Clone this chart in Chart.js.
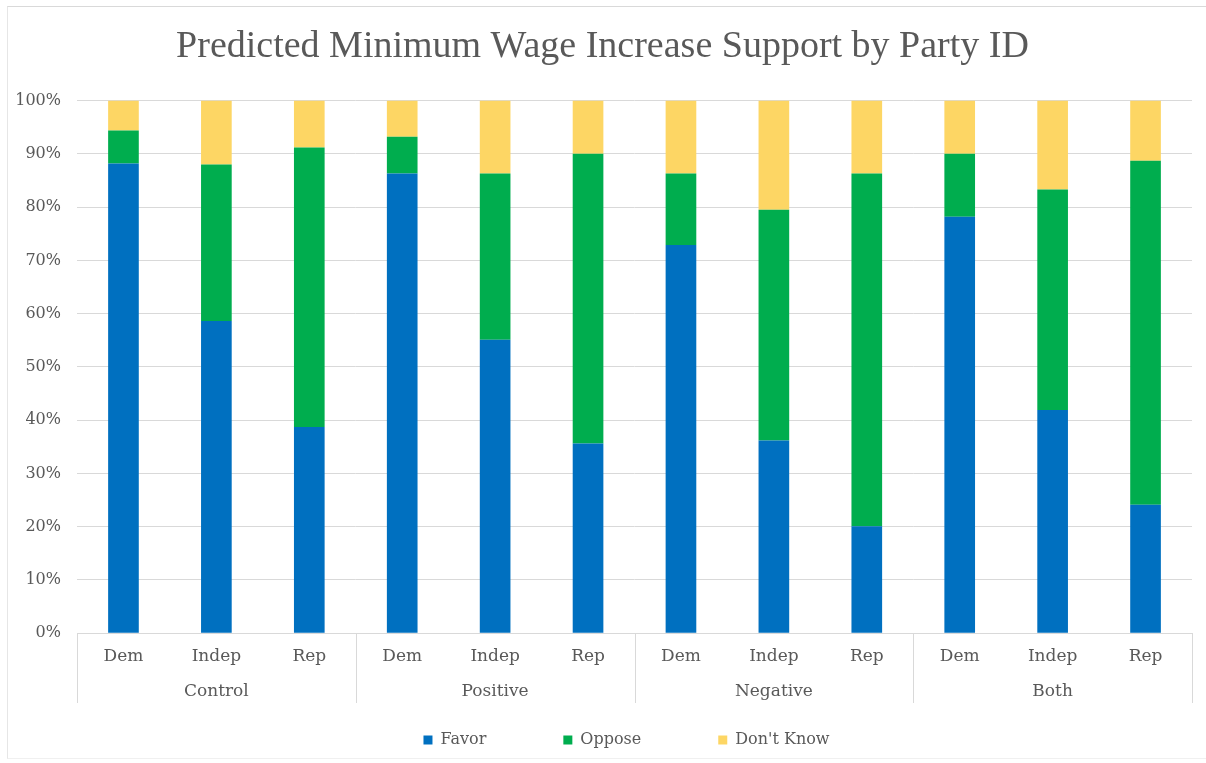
<!DOCTYPE html>
<html>
<head>
<meta charset="utf-8">
<script src="https://cdn.jsdelivr.net/npm/chart.js@4"></script>
<style>
  html, body { margin: 0; padding: 0; background: #fff; }
  #wrap {
    position: absolute; left: 0; top: 0; width: 1206px; height: 763px;
  }
  #frame {
    position: absolute; left: 7px; top: 6px; right: 0; bottom: 4px;
    border-top: 1px solid #d9d9d9; border-left: 1px solid #e6e6e6;
    border-bottom: 1px solid #f0f0f0; pointer-events: none;
  }
</style>
</head>
<body>
<div id="wrap">
  <canvas id="chart" width="1206" height="763"></canvas>
  <div id="frame"></div>
</div>
<script>
const PARTIES = ["Dem", "Indep", "Rep", "Dem", "Indep", "Rep", "Dem", "Indep", "Rep", "Dem", "Indep", "Rep"];
const GROUPS = ["Control", "Positive", "Negative", "Both"];

// percent of respondents
const favor = [88.2, 58.6, 38.7, 86.3, 55.1, 35.6, 72.9, 36.2, 20.1, 78.2, 41.9, 24.1];
const oppose = [6.2, 29.4, 52.5, 6.9, 31.2, 54.4, 13.4, 43.3, 66.2, 11.8, 41.4, 64.6];
const dontKnow = [5.6, 12.0, 8.8, 6.8, 13.7, 10.0, 13.7, 20.5, 13.7, 10.0, 16.7, 11.3];

const Y_TICKS = [0, 10, 20, 30, 40, 50, 60, 70, 80, 90, 100];

const textColor = "#595959";
const gridColor = "#d9d9d9";
const serif = "'DejaVu Serif', serif";

// vertical separators between the groups, from the axis line down under the group labels
const groupLines = {
  id: "groupLines",
  afterDraw(chart) {
    const x = chart.scales.x;
    const x2 = chart.scales.x2;
    const n = PARTIES.length;
    const per = n / GROUPS.length;
    const ctx = chart.ctx;
    ctx.save();
    ctx.strokeStyle = gridColor;
    ctx.lineWidth = 1;
    for (let i = 0; i <= n; i += per) {
      const px = Math.round(x.left + (i * x.width) / n) + 0.5;
      ctx.beginPath();
      ctx.moveTo(px, x.top);
      ctx.lineTo(px, x2.bottom);
      ctx.stroke();
    }
    ctx.restore();
  },
};

new Chart(document.getElementById("chart"), {
  type: "bar",
  data: {
    labels: PARTIES,
    datasets: [
      { label: "Favor", data: favor, backgroundColor: "#0070c0" },
      { label: "Oppose", data: oppose, backgroundColor: "#00ad4e" },
      { label: "Don't Know", data: dontKnow, backgroundColor: "#fdd664" },
    ],
  },
  options: {
    responsive: false,
    animation: false,
    datasets: { bar: { categoryPercentage: 1, barPercentage: 0.33 } },
    layout: { padding: { left: 13, right: 14, top: 0, bottom: 5 } },
    plugins: {
      title: {
        display: true,
        text: "Predicted Minimum Wage Increase Support by Party ID",
        color: textColor,
        font: { family: "'Liberation Serif', serif", size: 38, weight: "normal" },
        padding: { top: 24, bottom: 31 },
      },
      legend: {
        position: "bottom",
        fullSize: false,
        labels: {
          color: textColor,
          font: { family: serif, size: 16 },
          boxWidth: 9,
          boxHeight: 9,
          padding: 29,
          // wider gaps between entries than the legend's vertical padding allows
          generateLabels(chart) {
            const items = Chart.defaults.plugins.legend.labels.generateLabels(chart);
            items.forEach((it, i) => {
              it.text += i < items.length - 1 ? "\u2003\u2003\u2003" : "\u2003";
            });
            return items;
          },
        },
      },
      tooltip: { enabled: false },
    },
    scales: {
      x: {
        stacked: true,
        grid: { display: true, drawOnChartArea: false, drawTicks: false },
        border: { display: true, color: gridColor },
        ticks: {
          color: textColor,
          font: { family: serif, size: 17 },
          padding: 13,
          maxRotation: 0,
          autoSkip: false,
        },
        afterFit(scale) {
          scale.height -= 8;
        },
      },
      x2: {
        type: "category",
        labels: GROUPS,
        offset: true,
        position: "bottom",
        grid: { display: false },
        border: { display: false },
        ticks: {
          color: textColor,
          font: { family: serif, size: 17 },
          padding: 2,
          maxRotation: 0,
        },
        afterFit(scale) {
          scale.height -= 1;
        },
      },
      y: {
        stacked: true,
        min: 0,
        max: 100,
        afterBuildTicks(scale) {
          scale.ticks = Y_TICKS.map((v) => ({ value: v }));
        },
        afterFit(scale) {
          scale.width = 64;
        },
        grid: { color: gridColor, drawTicks: false },
        border: { display: false },
        ticks: {
          color: textColor,
          font: { family: serif, size: 16 },
          padding: 16,
          callback: (v) => v + "%",
        },
      },
    },
  },
  plugins: [groupLines],
});
</script>
</body>
</html>
